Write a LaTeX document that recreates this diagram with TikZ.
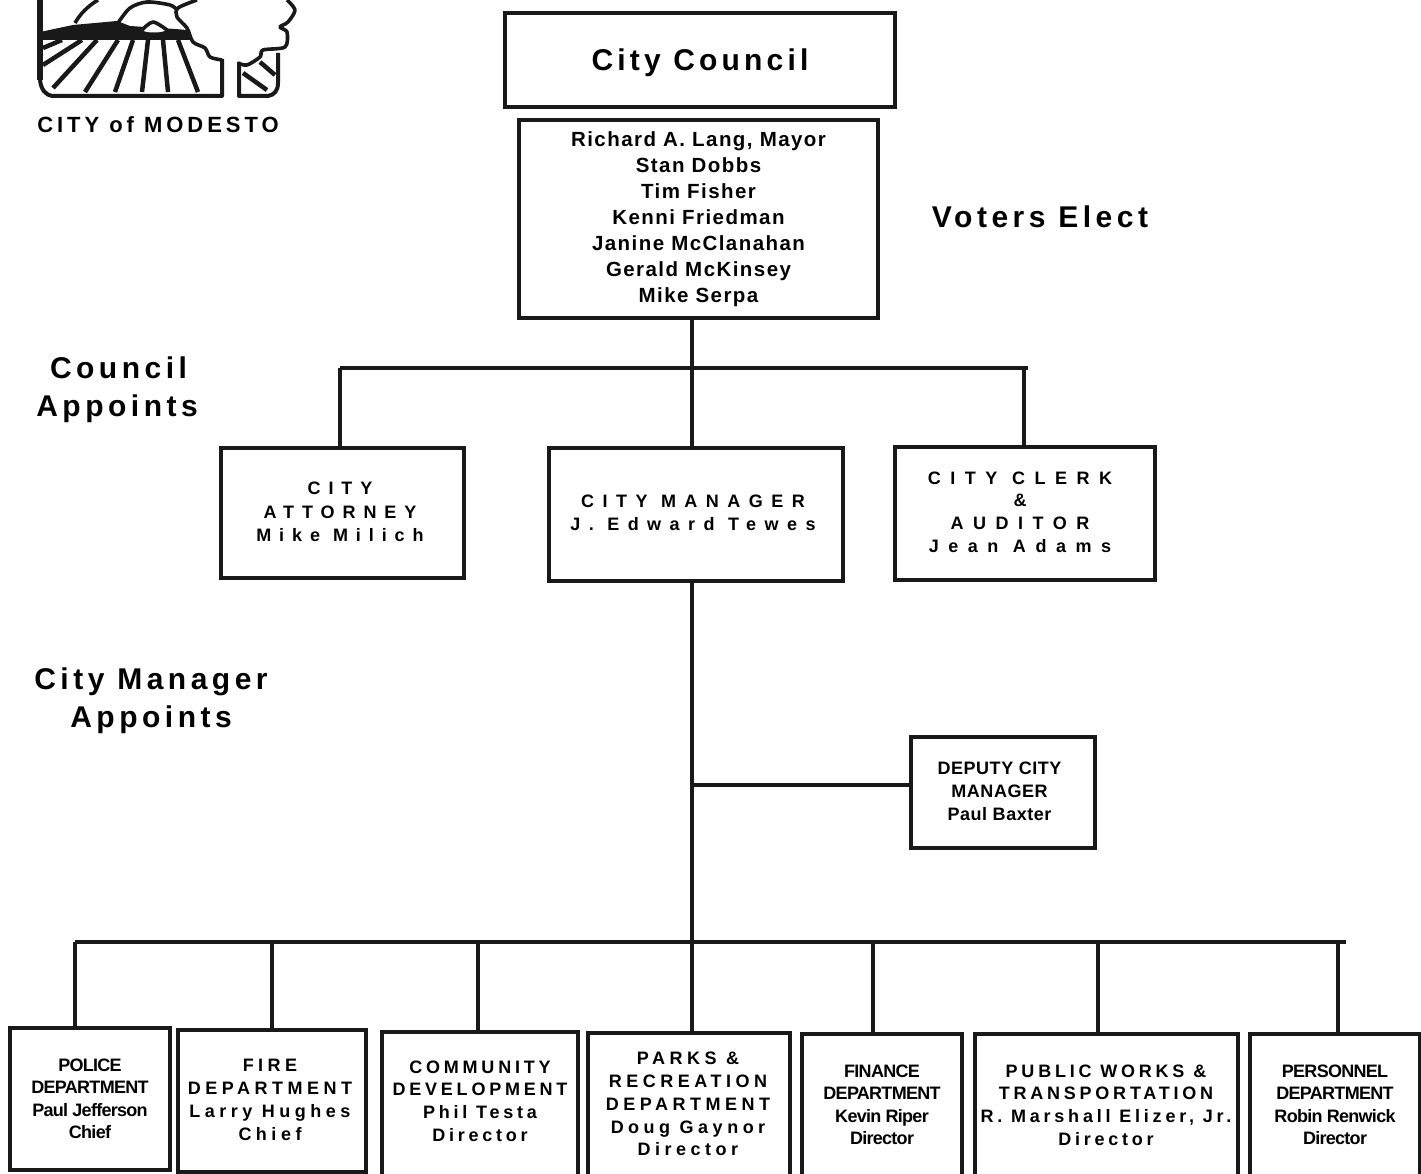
\documentclass[tikz,border=0pt]{standalone}
\usepackage{fontspec}
\setmainfont{Liberation Sans}
\newfontfamily\fontcouncil{Liberation Sans}[LetterSpace=14]
\newfontfamily\fonthead{Liberation Sans}[LetterSpace=15]
\newfontfamily\fontlogo{Liberation Sans}[LetterSpace=18]
\newfontfamily\fontmember{Liberation Sans}[LetterSpace=7]
\newfontfamily\fontatt{Liberation Sans}[LetterSpace=44]
\newfontfamily\fontmgr{Liberation Sans}[LetterSpace=47]
\newfontfamily\fontclerk{Liberation Sans}[LetterSpace=53]
\newfontfamily\fontdeptw{Liberation Sans}[LetterSpace=25]
\newfontfamily\fontdeptn{Liberation Sans}[LetterSpace=21]
\newfontfamily\fontdeputy{Liberation Sans}[LetterSpace=3]
\newfontfamily\fonttight{Liberation Sans}[LetterSpace=-4]
\tikzset{
	x=1pt, y=1pt,
	box/.style={draw=black!90, line width=3.2pt, inner sep=0pt, align=center},
	plain/.style={inner sep=0pt, align=center},
	wire/.style={draw=black!90, line width=3.6pt},
	logo/.style={draw=black!90, line width=4.5pt, line join=round},
	logothin/.style={logo, line width=3.6pt},
	membertxt/.style={font=\fontsize{20.5}{25.9}\selectfont\bfseries\fontmember},
	atttxt/.style={plain, font=\fontsize{18}{23.4}\selectfont\bfseries\fontatt},
	mgrtxt/.style={plain, font=\fontsize{18}{23.4}\selectfont\bfseries\fontmgr},
	clerktxt/.style={plain, font=\fontsize{18}{22.8}\selectfont\bfseries\fontclerk},
	deputytxt/.style={plain, font=\fontsize{18}{22.8}\selectfont\bfseries\fontdeputy},
	deptwtxt/.style={font=\fontsize{18}{22.8}\selectfont\bfseries\fontdeptw},
	deptntxt/.style={plain, font=\fontsize{18}{22.8}\selectfont\bfseries\fontdeptn},
	tighttxt/.style={font=\fontsize{18}{22.5}\selectfont\bfseries\fonttight},
	headtxt/.style={plain, font=\fontsize{30}{38}\selectfont\bfseries\fonthead},
}

\begin{document}
\begin{tikzpicture}
	\useasboundingbox (0, 0) rectangle (1421, -1174);
	%%%%% LOGO %%%%%
	\draw[logo, line width=5.5pt] (40, 0) -- (40, -80);
	\draw[logo, line width=4pt] (40, -80) .. controls (41, -90) and (46, -95) .. (52, -96) -- (222, -96) -- (222, -59);
	\fill[black!90] (40, -32) -- (73, -25) -- (117, -21) -- (130, -26) -- (175, -29) -- (187, -30) -- (193, -40) -- (40, -40) -- cycle;
	\fill[white] (154, -29.5) ellipse (12 and 3);
	\draw[logothin] (75, -23) .. controls (80, -14) and (88, -6) .. (98, 0);
	\draw[logothin] plot[smooth] coordinates {(118, -23) (130, -8) (147, -2) (170, -5) (177, -10)};
	\draw[logothin] plot[smooth] coordinates {(142, -30) (153, -22) (167, -30)};
	\draw[logothin] plot[smooth] coordinates {(197, 0) (178, -8) (177, -17) (187, -28) (193, -42) (205, -48) (210, -57) (222, -60)};
	\draw[logothin] plot[smooth] coordinates {(287, 0) (295, -10) (288, -22) (280, -27) (287, -32) (285, -47) (263, -50) (260, -57) (247, -65) (238, -63)};
	\draw[logo, line width=4pt] (239, -62) -- (239, -96) -- (268, -96) .. controls (274, -95) and (278, -91) .. (278, -83) -- (278, -53);
	\draw[logo] (243, -73) -- (267, -90);
	\draw[logo] (260, -62) -- (275, -75);
	\draw[logo] (62, -40) -- (43, -48);
	\draw[logo] (82, -40) -- (43, -65);
	\draw[logo] (97, -40) -- (53, -88);
	\draw[logo] (118, -40) -- (85, -92);
	\draw[logo] (133, -40) -- (115, -92);
	\draw[logo] (148, -40) -- (142, -92);
	\draw[logo] (163, -40) -- (168, -92);
	\draw[logo] (178, -40) -- (198, -92);
	\node[plain, font=\fontsize{22}{26}\selectfont\bfseries\fontlogo] (cityname) at (158, -125) {CITY of MODESTO};
	
	%%%%% HEADINGS %%%%%
	\node[headtxt] (voters) at (1040, -217) {Voters Elect};
	\node[headtxt] (council) at (117, -390) {\hspace*{3pt}Council\\Appoints};
	\node[headtxt] (cmappoints) at (151, -701) {City Manager\\Appoints};
	
	%%%%% TOP %%%%%
	\node[box, minimum width=390, minimum height=94] (citycouncil) at (700, -60) {};
	\node[plain, font=\fontsize{30}{34}\selectfont\bfseries\fontcouncil] (councilname) at (700, -63) {City Council};
	\node[box, minimum width=359, minimum height=198, membertxt] (members) at (698.5, -219) {Richard A. Lang, Mayor\\Stan Dobbs\\Tim Fisher\\Kenni Friedman\\Janine McClanahan\\Gerald McKinsey\\Mike Serpa};
	
	%%%%% APPOINTED %%%%%
	\node[box, minimum width=243, minimum height=130] (attorney) at (342.5, -513) {};
	\node[atttxt] (attorneytxt) at (340, -512) {CITY\\ATTORNEY\\Mike Milich};
	\node[box, minimum width=294, minimum height=133] (manager) at (696, -514.5) {};
	\node[mgrtxt] (managertxt) at (693, -513) {CITY MANAGER\\J. Edward Tewes};
	\node[box, minimum width=260, minimum height=133] (clerk) at (1025, -513.5) {};
	\node[clerktxt] (clerktext) at (1020, -512) {CITY CLERK\\\&\\AUDITOR\\Jean Adams};
	\node[box, minimum width=184, minimum height=111] (deputy) at (1003, -792.5) {};
	\node[deputytxt] (deputytext) at (999.5, -791) {DEPUTY CITY\\MANAGER\\Paul Baxter};
	
	%%%%% DEPARTMENTS %%%%%
	\node[box, minimum width=160, minimum height=142, tighttxt] (police) at (90, -1099) {POLICE\\DEPARTMENT\\Paul Jefferson\\Chief};
	\node[box, minimum width=188, minimum height=142] (fire) at (272, -1101) {};
	\node[plain, deptwtxt] (firetxt) at (270, -1100) {FIRE\\DEPARTMENT\\Larry Hughes\\Chief};
	\node[box, minimum width=196, minimum height=146] (community) at (480, -1105) {};
	\node[deptntxt] (communitytxt) at (480, -1101) {COMMUNITY\\DEVELOPMENT\\Phil Testa\\Director};
	\node[box, minimum width=202, minimum height=146] (parks) at (689, -1106) {};
	\node[plain, deptwtxt] (parkstxt) at (688, -1104) {PARKS \&\\RECREATION\\DEPARTMENT\\Doug Gaynor\\Director};
	\node[box, minimum width=160, minimum height=142, tighttxt] (finance) at (882, -1105) {FINANCE\\DEPARTMENT\\Kevin Riper\\Director};
	\node[box, minimum width=263, minimum height=142] (publicworks) at (1106.5, -1105) {};
	\node[deptntxt] (publicworkstxt) at (1106, -1105) {PUBLIC WORKS \&\\TRANSPORTATION\\R. Marshall Elizer, Jr.\\Director};
	\node[box, minimum width=170, minimum height=142, tighttxt] (personnel) at (1335, -1105) {PERSONNEL\\DEPARTMENT\\Robin Renwick\\Director};
	
	%%%%% CONNECTORS %%%%%
	\coordinate (trunk) at (692, -368);
	\coordinate (busa) at (340, -368);
	\coordinate (busb) at (1028, -368);
	\coordinate (clerkdrop) at (1024, -368);
	\coordinate (depjoin) at (692, -785);
	\coordinate (mainl) at (75, -942);
	\coordinate (mainr) at (1346, -942);
	\coordinate (firedrop) at (272, -942);
	\coordinate (commdrop) at (478, -942);
	\coordinate (findrop) at (873, -942);
	\coordinate (pubdrop) at (1098, -942);
	\coordinate (perdrop) at (1338, -942);
	
	\draw[wire] (members.south -| trunk) -- (manager.north -| trunk);
	\draw[wire] (busa) -- (busb);
	\draw[wire] (busa) -- (attorney.north -| busa);
	\draw[wire] (clerkdrop) -- (clerk.north -| clerkdrop);
	\draw[wire] (manager.south -| trunk) -- (parks.north -| trunk);
	\draw[wire] (depjoin) -- (depjoin -| deputy.west);
	\draw[wire] (mainl) -- (mainr);
	\draw[wire] (mainl) -- (police.north -| mainl);
	\draw[wire] (firedrop) -- (fire.north -| firedrop);
	\draw[wire] (commdrop) -- (community.north -| commdrop);
	\draw[wire] (findrop) -- (finance.north -| findrop);
	\draw[wire] (pubdrop) -- (publicworks.north -| pubdrop);
	\draw[wire] (perdrop) -- (personnel.north -| perdrop);
\end{tikzpicture}
\end{document}
